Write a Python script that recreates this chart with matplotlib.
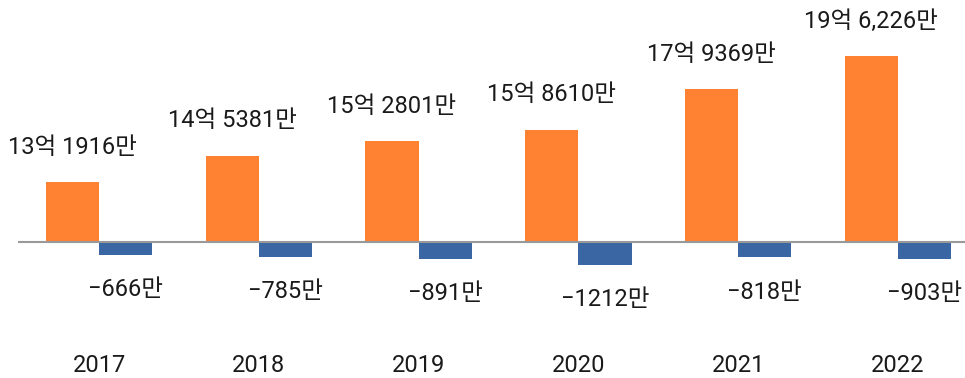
import matplotlib
matplotlib.use('Agg')
import matplotlib.pyplot as plt
import matplotlib.transforms as mtransforms
import numpy as np

# Latin digits from Roboto, Hangul falls through to Noto Sans CJK
plt.rcParams['font.family'] = ['Roboto', 'Noto Sans CJK KR', 'DejaVu Sans']

# values in units of 만 (10,000)
years = ['2017', '2018', '2019', '2020', '2021', '2022']
income = [131916, 145381, 152801, 158610, 179369, 196226]
change = [-666, -785, -891, -1212, -818, -903]
income_labels = ['13억 1916만', '14억 5381만', '15억 2801만', '15억 8610만',
                 '17억 9369만', '19억 6,226만']
change_labels = ['−666만', '−785만', '−891만', '−1212만', '−818만', '−903만']

ORANGE = '#FE8232'
BLUE = '#3A66A3'
W, H, DPI = 965, 378, 100

fig = plt.figure(figsize=(W / DPI, H / DPI), dpi=DPI)
ax1 = fig.add_axes([0, 0, 1, 1])
ax2 = ax1.twinx()

# pixel geometry of the plot
base_px = H - 242          # baseline height from bottom, px
k1 = 0.001959              # px per 만, primary axis
k2 = 0.0188                # px per 만, secondary axis
axis_min = 101290          # primary axis value at the baseline
group_px, first_px = 159.8, 99

x = np.arange(len(years))
w = 1 / 3

ax1.set_ylim(axis_min - base_px / k1, axis_min + (H - base_px) / k1)
ax2.set_ylim(-base_px / k2, (H - base_px) / k2)
ax1.set_xlim(-first_px / group_px, (W - first_px) / group_px)

inc = np.array(income)
ax1.bar(x - w / 2, inc - axis_min, bottom=axis_min, width=w, color=ORANGE, zorder=2)
ax2.bar(x + w / 2, change, width=w, color=BLUE, zorder=2)
ax2.hlines(0, -0.51, 5.6, color='#999999', lw=1.5, zorder=3)

FS = 17
for xi, v, lab in zip(x, income, income_labels):
    ax1.annotate(lab, (xi - w / 2, v), xytext=(0, 25), textcoords='offset points',
                 ha='center', va='center', fontsize=FS, color='#1a1a1a')
for xi, v, lab in zip(x, change, change_labels):
    ax2.annotate(lab, (xi + w / 2, v), xytext=(0, -25), textcoords='offset points',
                 ha='center', va='center', fontsize=FS, color='#1a1a1a')

trans = mtransforms.blended_transform_factory(ax1.transData, ax1.transAxes)
for xi, yr in zip(x, years):
    ax1.text(xi, 1 - 365 / H, yr, transform=trans, ha='center', va='center',
             fontsize=FS, color='#1a1a1a')

for a in (ax1, ax2):
    a.axis('off')

fig.savefig('out.png', dpi=DPI, facecolor='white')
